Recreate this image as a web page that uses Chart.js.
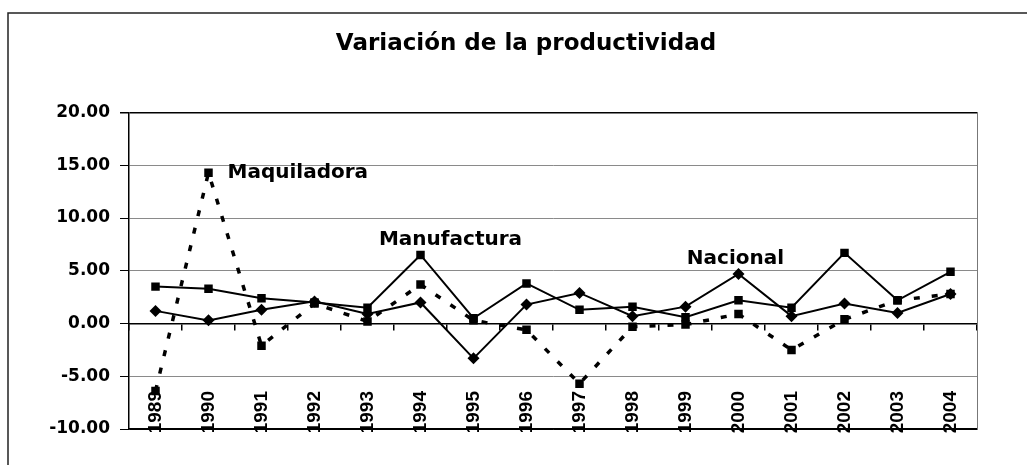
<!DOCTYPE html>
<html lang="es">
<head>
<meta charset="utf-8">
<title>Variación de la productividad</title>
<script src="https://cdn.jsdelivr.net/npm/chart.js@4.4.1/dist/chart.umd.min.js"></script>
<style>
    html, body { margin: 0; padding: 0; background: #fff; }
    canvas { display: block; }
</style>
</head>
<body>
<canvas id="prodChart" width="1027" height="465"></canvas>
<script>
// Years on the category axis
const years = ['1989', '1990', '1991', '1992', '1993', '1994', '1995', '1996',
               '1997', '1998', '1999', '2000', '2001', '2002', '2003', '2004'];

// Variation (%)
const manufactura = [3.5, 3.3, 2.4, 2.0, 1.5, 6.5, 0.5, 3.8, 1.3, 1.6, 0.6, 2.2, 1.5, 6.7, 2.2, 4.9];
const nacional    = [1.2, 0.3, 1.3, 2.1, 0.9, 2.0, -3.3, 1.8, 2.9, 0.7, 1.6, 4.7, 0.7, 1.9, 1.0, 2.8];
const maquiladora = [-6.4, 14.3, -2.1, 1.9, 0.2, 3.7, 0.3, -0.6, -5.7, -0.3, -0.1, 0.9, -2.5, 0.4, 2.2, 2.8];

// Value axis
const yMin = -10;
const yMax = 20;
const yStep = 5;

const ink = '#000';
const gridGray = '#8a8a8a';

// white page plus the outer frame of the sheet
const sheetFrame = {
    id: 'sheetFrame',
    beforeDraw: chart => {
        const ctx = chart.ctx;
        ctx.save();
        ctx.fillStyle = '#fff';
        ctx.fillRect(0, 0, chart.width, chart.height);
        ctx.strokeStyle = '#222';
        ctx.lineWidth = 1.5;
        ctx.beginPath();
        ctx.moveTo(8, chart.height);
        ctx.lineTo(8, 13);
        ctx.lineTo(chart.width, 13);
        ctx.stroke();
        ctx.restore();
    }
};

// series names written next to a point of each line
const nameTags = {
    id: 'nameTags',
    afterDatasetsDraw: chart => {
        const ctx = chart.ctx;
        const x = chart.scales.x;
        const y = chart.scales.y;
        const ds = chart.data.datasets;
        ctx.save();
        ctx.font = 'bold 20px "DejaVu Sans"';
        ctx.fillStyle = ink;
        ctx.textBaseline = 'middle';

        // Maquiladora: right of its 1990 peak
        ctx.textAlign = 'left';
        ctx.fillText(ds[2].label, x.getPixelForValue(1) + 19, y.getPixelForValue(ds[2].data[1]));

        // Manufactura: over the 1994 peak
        ctx.textAlign = 'center';
        ctx.fillText(ds[0].label, x.getPixelForValue(5) + 30, y.getPixelForValue(ds[0].data[5]) - 15);

        // Nacional: over the 2000 peak
        ctx.fillText(ds[1].label, x.getPixelForValue(11) - 3, y.getPixelForValue(ds[1].data[11]) - 15);
        ctx.restore();
    }
};

const ctx = document.getElementById('prodChart').getContext('2d');

const prodChart = new Chart(ctx, {
    type: 'line',
    data: {
        labels: years,
        datasets: [{
            label: 'Manufactura',
            data: manufactura,
            borderColor: ink,
            borderWidth: 2,
            backgroundColor: ink,
            pointStyle: 'rect',
            pointRadius: 6,
            pointBackgroundColor: ink,
            pointBorderColor: ink,
            pointBorderWidth: 0,
            tension: 0,
            fill: false
        }, {
            label: 'Nacional',
            data: nacional,
            borderColor: ink,
            borderWidth: 2,
            backgroundColor: ink,
            pointStyle: 'rectRot',
            pointRadius: 6,
            pointBackgroundColor: ink,
            pointBorderColor: ink,
            pointBorderWidth: 0,
            tension: 0,
            fill: false
        }, {
            label: 'Maquiladora',
            data: maquiladora,
            borderColor: ink,
            borderWidth: 3.5,
            borderDash: [6, 12],
            backgroundColor: ink,
            pointStyle: 'rect',
            pointRadius: 6,
            pointBackgroundColor: ink,
            pointBorderColor: ink,
            pointBorderWidth: 0,
            tension: 0,
            fill: false
        }]
    },
    options: {
        responsive: false,
        animation: false,
        devicePixelRatio: 1,
        layout: {
            padding: { left: 25, right: 0, top: 0, bottom: 36 }
        },
        plugins: {
            legend: { display: false },
            tooltip: { enabled: false },
            title: {
                display: true,
                text: 'Variación de la productividad',
                color: ink,
                font: { family: '"DejaVu Sans"', size: 23, weight: 'bold' },
                padding: { top: 30, bottom: 55 }
            }
        },
        scales: {
            // axis crossing at zero, only tick marks
            x: {
                axis: 'x',
                type: 'category',
                position: { y: 0 },
                offset: true,
                grid: {
                    display: true,
                    drawOnChartArea: false,
                    drawTicks: true,
                    tickLength: 6,
                    offset: true,
                    color: ink,
                    lineWidth: 1.5
                },
                border: { display: true, color: ink, width: 1.5 },
                ticks: { display: false }
            },
            // bottom edge carrying the rotated year labels inside the plot
            xb: {
                axis: 'x',
                type: 'category',
                position: { y: yMin },
                offset: true,
                grid: { display: false, drawTicks: false },
                border: { display: true, color: ink, width: 1.5 },
                ticks: {
                    autoSkip: false,
                    minRotation: 90,
                    maxRotation: 90,
                    padding: -38,
                    color: ink,
                    font: { family: '"Liberation Sans"', size: 19, weight: 'bold' }
                }
            },
            y: {
                min: yMin,
                max: yMax,
                ticks: {
                    stepSize: yStep,
                    padding: 10,
                    color: ink,
                    font: { family: '"DejaVu Sans"', size: 17, weight: 'bold' },
                    callback: value => value.toFixed(2)
                },
                grid: {
                    color: c => (c.tick && (c.tick.value === yMax || c.tick.value === yMin || c.tick.value === 0)) ? ink : gridGray,
                    lineWidth: c => (c.tick && c.tick.value === yMax) ? 1.5 : 1,
                    tickLength: 9,
                    tickColor: ink
                },
                border: { display: true, color: ink, width: 1.5 },
                afterFit: scale => { scale.width = 104; }
            },
            // right edge of the plot area (dotted)
            yr: {
                axis: 'y',
                position: 'right',
                grid: { display: false, drawTicks: false },
                ticks: { display: false },
                border: { display: true, color: '#777', width: 1, dash: [2, 2] },
                afterFit: scale => { scale.width = 50; }
            }
        }
    },
    plugins: [sheetFrame, nameTags]
});
</script>
</body>
</html>
